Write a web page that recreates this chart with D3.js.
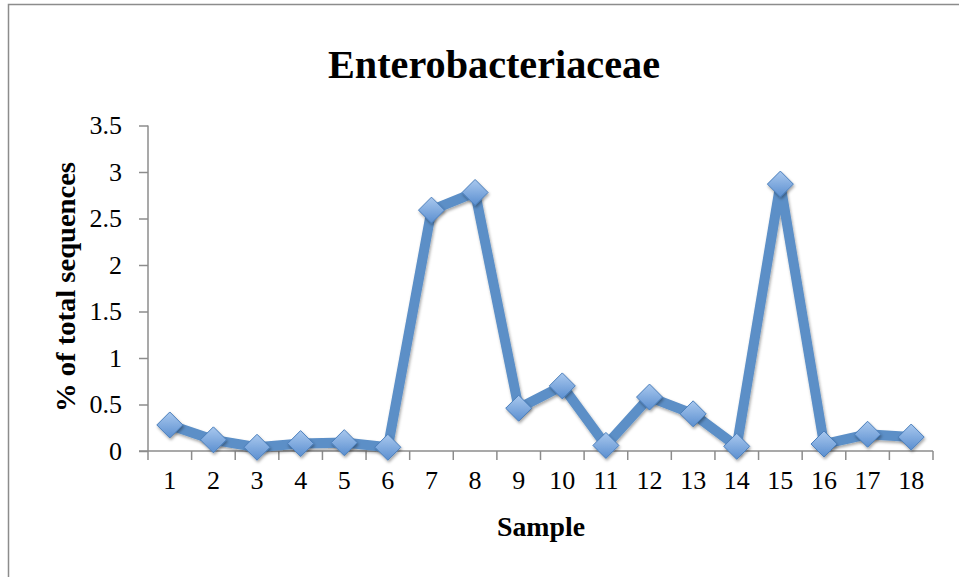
<!DOCTYPE html>
<html>
<head>
<meta charset="utf-8">
<script src="https://cdn.jsdelivr.net/npm/d3@7"></script>
<style>
  body { margin: 0; background: #fff; }
  text { font-family: "Liberation Serif", "DejaVu Serif", serif; fill: #000; }
</style>
</head>
<body>
<div id="chart"></div>
<script>
// data
var samples = ["1","2","3","4","5","6","7","8","9","10","11","12","13","14","15","16","17","18"];
var values  = [0.28, 0.12, 0.04, 0.08, 0.09, 0.04, 2.59, 2.78, 0.46, 0.70, 0.06, 0.58, 0.40, 0.05, 2.87, 0.075, 0.18, 0.15];
var yTicks  = [0, 0.5, 1, 1.5, 2, 2.5, 3, 3.5];

var W = 959, H = 577;
var margin = { top: 125.5, right: 26, bottom: 126, left: 148 };
var width  = W - margin.left - margin.right,
    height = H - margin.top - margin.bottom;

var svg = d3.select('#chart').append('svg')
    .attr('width', W)
    .attr('height', H);

var defs = svg.append('defs');
var grad = defs.append('linearGradient')
    .attr('id', 'mk')
    .attr('x1', 0).attr('y1', 0).attr('x2', 0).attr('y2', 1);
grad.append('stop').attr('offset', '0%').attr('stop-color', '#a9c8ee');
grad.append('stop').attr('offset', '100%').attr('stop-color', '#5b8fd0');

var shadow = defs.append('filter').attr('id', 'sh')
    .attr('x', '-50%').attr('y', '-50%').attr('width', '200%').attr('height', '200%');
shadow.append('feDropShadow')
    .attr('dx', 1).attr('dy', 2).attr('stdDeviation', 1.5)
    .attr('flood-color', '#000').attr('flood-opacity', 0.35);

// outer frame (cut by the window on right and bottom)
svg.append('rect')
    .attr('x', 8.5).attr('y', 4.5)
    .attr('width', 1000).attr('height', 1000)
    .attr('fill', 'none')
    .attr('stroke', '#8c8c8c')
    .attr('stroke-width', 1.5);

var g = svg.append('g')
    .attr('transform', 'translate(' + margin.left + ',' + margin.top + ')');

var x = d3.scaleBand().domain(samples).range([0, width]);
var y = d3.scaleLinear().domain([0, 3.5]).range([height, 0]);

// y axis
var yAxis = g.append('g')
    .call(d3.axisLeft(y).tickValues(yTicks).tickSize(9).tickPadding(17).tickFormat(d3.format('')));
yAxis.selectAll('text').style('font-size', '26px');

// x axis, ticks at category boundaries
var xAxis = g.append('g')
    .attr('transform', 'translate(0,' + height + ')')
    .call(d3.axisBottom(x).tickSize(0).tickPadding(20));
xAxis.selectAll('text').style('font-size', '26px');
xAxis.append('g')
    .selectAll('line')
    .data(d3.range(samples.length + 1))
    .enter().append('line')
    .attr('x1', d => d * x.step())
    .attr('x2', d => d * x.step())
    .attr('y1', 0).attr('y2', 9);

svg.selectAll('.domain, .tick line, g line')
    .attr('stroke', '#8c8c8c')
    .attr('stroke-width', 1.5);
yAxis.select('.domain').attr('d', 'M0,0V' + height);
xAxis.select('.domain').attr('d', 'M-9,0H' + width);

// line
var line = d3.line()
    .x((d, i) => x(samples[i]) + x.bandwidth() / 2)
    .y(d => y(d));

g.append('path')
    .datum(values)
    .attr('fill', 'none')
    .attr('stroke', '#5b8fc7')
    .attr('stroke-width', 10)
    .attr('stroke-linejoin', 'miter')
    .attr('filter', 'url(#sh)')
    .attr('d', line);

// diamond markers
g.selectAll('.pt')
    .data(values)
    .enter().append('path')
    .attr('class', 'pt')
    .attr('d', 'M0,-13L13,0L0,13L-13,0Z')
    .attr('transform', (d, i) => 'translate(' + (x(samples[i]) + x.bandwidth() / 2) + ',' + y(d) + ')')
    .attr('fill', 'url(#mk)')
    .attr('stroke', '#4a7ebb')
    .attr('stroke-width', 1)
    .attr('filter', 'url(#sh)');

// titles
svg.append('text')
    .attr('x', 494).attr('y', 78)
    .attr('text-anchor', 'middle')
    .attr('textLength', 332)
    .attr('lengthAdjust', 'spacingAndGlyphs')
    .style('font-size', '39px')
    .style('font-weight', 'bold')
    .text('Enterobacteriaceae');

svg.append('text')
    .attr('x', 541).attr('y', 536)
    .attr('text-anchor', 'middle')
    .attr('textLength', 88)
    .attr('lengthAdjust', 'spacingAndGlyphs')
    .style('font-size', '27px')
    .style('font-weight', 'bold')
    .text('Sample');

svg.append('text')
    .attr('transform', 'translate(75,287) rotate(-90)')
    .attr('text-anchor', 'middle')
    .attr('textLength', 250)
    .attr('lengthAdjust', 'spacingAndGlyphs')
    .style('font-size', '27px')
    .style('font-weight', 'bold')
    .text('% of total sequences');
</script>
</body>
</html>
